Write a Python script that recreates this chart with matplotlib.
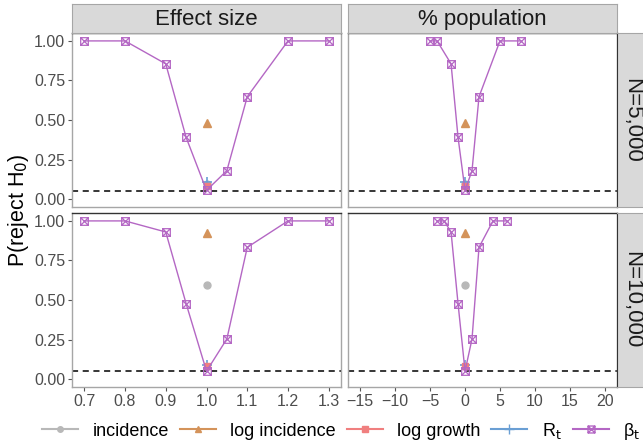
import matplotlib
matplotlib.use("Agg")
import matplotlib.pyplot as plt
from matplotlib.path import Path
from matplotlib.lines import Line2D

plt.rcParams['font.family'] = ['Liberation Sans', 'DejaVu Sans']

# ---- data ----
effect_x = [0.7, 0.8, 0.9, 0.95, 1.0, 1.05, 1.1, 1.2, 1.3]
pop_x_5k = [-5, -4, -2, -1, 0, 1, 2, 5, 8]
pop_x_10k = [-4, -3, -2, -1, 0, 1, 2, 4, 6]

beta_5k = [1.0, 1.0, 0.855, 0.39, 0.055, 0.18, 0.647, 1.0, 1.0]
beta_10k = [1.0, 1.0, 0.93, 0.477, 0.05, 0.254, 0.833, 1.0, 1.0]

# single-point methods at the null (effect 1.0 / 0 %)
incidence = {"5k": 0.095, "10k": 0.593}
log_incidence = {"5k": 0.483, "10k": 0.926}
log_growth = {"5k": 0.084, "10k": 0.083}
r_t = {"5k": 0.11, "10k": 0.09}

row_labels = ["N=5,000", "N=10,000"]
col_labels = ["Effect size", "% population"]
alpha_level = 0.05

# ---- style ----
c_inc = "#B8B8B8"
c_loginc = "#D4935A"
c_loggr = "#F07F7F"
c_rt = "#6A9FD4"
c_beta = "#B467C4"

box_x = Path([(-1, -1), (1, -1), (1, 1), (-1, 1), (-1, -1), (-1, -1), (1, 1), (-1, 1), (1, -1)],
             [Path.MOVETO, Path.LINETO, Path.LINETO, Path.LINETO, Path.CLOSEPOLY,
              Path.MOVETO, Path.LINETO, Path.MOVETO, Path.LINETO])

W, H = 643, 444
fig = plt.figure(figsize=(W / 100, H / 100), dpi=100)


def fx(px):
    return px / W


def fy(py):
    return 1 - py / H


col_px = [(72, 341), (348, 617)]
row_px = [(33, 207), (213, 387)]

null_x = [1.0, 0]
pop_xs = [pop_x_5k, pop_x_10k]
betas = [beta_5k, beta_10k]
keys = ["5k", "10k"]

for r in range(2):
    for c in range(2):
        x0, x1 = col_px[c]
        y0, y1 = row_px[r]
        ax = fig.add_axes([fx(x0), fy(y1), fx(x1 - x0), (y1 - y0) / H])
        xs = effect_x if c == 0 else pop_xs[r]
        k = keys[r]
        nx = null_x[c]
        ax.axhline(alpha_level, color="black", ls=(0, (4, 3)), lw=1.1, zorder=1)
        ax.plot([nx], [incidence[k]], "o", color=c_inc, ms=5, zorder=3)
        ax.plot([nx], [log_incidence[k]], "^", color=c_loginc, ms=6, zorder=3)
        ax.plot([nx], [r_t[k]], "+", color=c_rt, ms=7, mew=1.2, zorder=3)
        ax.plot([nx], [log_growth[k]], "s", color=c_loggr, ms=5, zorder=3)
        ax.plot(xs, betas[r], color=c_beta, lw=1, marker=box_x, ms=5.5,
                mfc="none", mec=c_beta, mew=0.9, zorder=4)
        ax.set_ylim(-0.05, 1.05)
        ax.set_yticks([0, 0.25, 0.5, 0.75, 1.0])
        if c == 0:
            ax.set_xlim(0.67, 1.33)
            ax.set_xticks(effect_x[:3] + [1.0, 1.1, 1.2, 1.3])
            ax.set_yticklabels(["0.00", "0.25", "0.50", "0.75", "1.00"])
        else:
            ax.set_xlim(-16.75, 21.75)
            ax.set_xticks([-15, -10, -5, 0, 5, 10, 15, 20])
            ax.set_yticklabels([])
        if r == 0:
            ax.set_xticklabels([])
        elif c == 0:
            ax.set_xticklabels(["0.7", "0.8", "0.9", "1.0", "1.1", "1.2", "1.3"])
        ax.tick_params(colors="#555555", labelcolor="#4D4D4D", labelsize=11.5,
                       width=0.8, length=0, pad=2)
        if c == 0:
            ax.tick_params(axis="y", length=3)
        if r == 1:
            ax.tick_params(axis="x", length=3)
        for s in ax.spines.values():
            s.set_color("#A6A6A6")
            s.set_linewidth(1)
        ax.spines["top"].set_color("#333333")

        # column strips
        if r == 0:
            sax = fig.add_axes([fx(x0), fy(33), fx(x1 - x0), 29 / H])
            sax.set_facecolor("#D9D9D9")
            sax.set_xticks([])
            sax.set_yticks([])
            for s in sax.spines.values():
                s.set_color("#A6A6A6")
            sax.text(0.5, 0.45, col_labels[c], ha="center", va="center",
                     fontsize=16, color="#1A1A1A", transform=sax.transAxes)
        # row strips
        if c == 1:
            sax = fig.add_axes([fx(617), fy(y1), fx(29), (y1 - y0) / H])
            sax.set_facecolor("#D9D9D9")
            sax.set_xticks([])
            sax.set_yticks([])
            for s in sax.spines.values():
                s.set_color("#A6A6A6")
            sax.spines["left"].set_color("#333333")
            sax.text(0.5, 0.5, row_labels[r], ha="center", va="center",
                     rotation=-90, fontsize=16, color="#1A1A1A",
                     transform=sax.transAxes)

fig.text(fx(19), fy(210), "P(reject H$_0$)", rotation=90, ha="center",
         va="center", fontsize=15.5)

handles = [
    Line2D([], [], color=c_inc, marker="o", ms=4),
    Line2D([], [], color=c_loginc, marker="^", ms=5),
    Line2D([], [], color=c_loggr, marker="s", ms=4),
    Line2D([], [], color=c_rt, marker="+", ms=7),
    Line2D([], [], color=c_beta, marker=box_x, ms=5, mfc="none"),
]
labels = ["incidence", "log incidence", "log growth", "R$_\\mathrm{t}$", "β$_\\mathrm{t}$"]
fig.legend(handles, labels, loc="center", bbox_to_anchor=(fx(341), fy(431)),
           ncol=5, frameon=False, fontsize=13, handlelength=2.0,
           columnspacing=0.6, handletextpad=0.8)

fig.savefig("out.png", dpi=100)
